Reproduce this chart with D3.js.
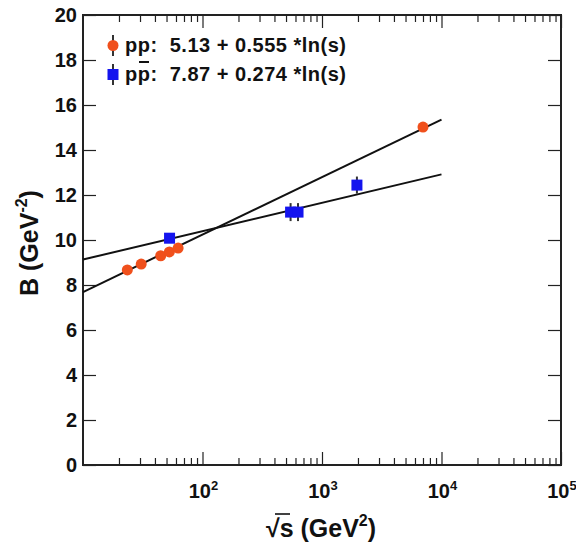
<!DOCTYPE html>
<html>
<head>
<meta charset="utf-8">
<script src="https://cdn.jsdelivr.net/npm/d3@7"></script>
<style>
  html, body { margin: 0; padding: 0; background: #fff; }
  svg { display: block; font-family: "Liberation Sans", Arial, Helvetica, sans-serif; font-weight: bold; }
</style>
</head>
<body>
<div id="chart"></div>
<script>
// --- data ---
const ppSqrtS   = [23.5, 30.7, 44.7, 52.8, 62.5, 7000];
const ppB       = [8.67, 8.93, 9.30, 9.47, 9.64, 15.02];
const ppErr     = [0.12, 0.12, 0.12, 0.12, 0.12, 0.2];
const pbarSqrtS = [53, 546, 630, 1960];
const pbarB     = [10.08, 11.24, 11.24, 12.44];
const pbarErr   = [0.2, 0.4, 0.4, 0.38];
// fit B = a + b*ln(s), drawn over sqrt(s) range
const ppFit     = [5.13, 0.555];
const pbarFit   = [7.87, 0.274];
const fitRange  = [10, 1e4];
const yTicks    = [0, 2, 4, 6, 8, 10, 12, 14, 16, 18, 20];
const xDecades  = [2, 3, 4, 5];

const W = 576, H = 553;
const pL = 83, pR = 561, pT = 15, pB = 465;

const svg = d3.select("#chart").append("svg")
  .attr("width", W).attr("height", H);

const x = d3.scaleLog().domain([10, 1e5]).range([pL, pR]);
const y = d3.scaleLinear().domain([0, 20]).range([pB, pT]);

// --- title, mostly above the top edge as in the reference ---
svg.append("text")
  .attr("x", 283).attr("y", -5)
  .attr("text-anchor", "middle")
  .style("font-size", "22px")
  .style("fill", "#222")
  .text("(pp and p\u0305p)");

// --- ticks ---
const minors = [];
for (let d = 1; d < 5; d++)
  for (let m = 2; m <= 9; m++) minors.push(m * Math.pow(10, d));
const majors = xDecades.map(e => Math.pow(10, e));

const tickStyle = g => g.call(s => s.select(".domain").remove())
  .call(s => s.selectAll("line").attr("stroke", "#222").attr("stroke-width", 1.2));

svg.append("g").attr("transform", `translate(0,${pB})`)
  .call(d3.axisBottom(x).tickValues(minors).tickSize(-7).tickFormat(""))
  .call(tickStyle);
svg.append("g").attr("transform", `translate(0,${pB})`)
  .call(d3.axisBottom(x).tickValues(majors).tickSize(-13).tickFormat(""))
  .call(tickStyle);
svg.append("g").attr("transform", `translate(0,${pT})`)
  .call(d3.axisTop(x).tickValues(minors).tickSize(-7).tickFormat(""))
  .call(tickStyle);
svg.append("g").attr("transform", `translate(0,${pT})`)
  .call(d3.axisTop(x).tickValues(majors).tickSize(-13).tickFormat(""))
  .call(tickStyle);
svg.append("g").attr("transform", `translate(${pL},0)`)
  .call(d3.axisLeft(y).tickValues(yTicks).tickSize(-13).tickFormat(""))
  .call(tickStyle);
svg.append("g").attr("transform", `translate(${pR},0)`)
  .call(d3.axisRight(y).tickValues(yTicks).tickSize(-13).tickFormat(""))
  .call(tickStyle);

// --- frame ---
svg.append("rect")
  .attr("x", pL).attr("y", pT)
  .attr("width", pR - pL).attr("height", pB - pT)
  .attr("fill", "none").attr("stroke", "#222").attr("stroke-width", 2);

// --- tick labels ---
svg.selectAll(".ylab").data(yTicks).join("text")
  .attr("class", "ylab")
  .attr("x", pL - 6)
  .attr("y", d => y(d) + 7)
  .attr("text-anchor", "end")
  .style("font-size", "20px")
  .style("fill", "#111")
  .text(d => d);

const xl = svg.selectAll(".xlab").data(xDecades).join("text")
  .attr("class", "xlab")
  .attr("x", d => x(Math.pow(10, d)) + 1)
  .attr("y", pB + 33)
  .attr("text-anchor", "middle")
  .style("font-size", "20px")
  .style("fill", "#111");
xl.append("tspan").text("10");
xl.append("tspan").attr("dy", -8).style("font-size", "13px").text(d => d);

// --- axis titles ---
const xt = svg.append("text")
  .attr("x", 321).attr("y", 537)
  .attr("text-anchor", "middle")
  .style("font-size", "25px")
  .style("fill", "#111");
xt.append("tspan").text("\u221As (GeV");
xt.append("tspan").attr("dy", -11).style("font-size", "16px").text("2");
xt.append("tspan").attr("dy", 11).text(")");
// radical bar over s
svg.append("line").attr("x1", 275).attr("x2", 290).attr("y1", 514).attr("y2", 514)
  .attr("stroke", "#111").attr("stroke-width", 1.6);

const yt = svg.append("text")
  .attr("transform", `translate(38,${243}) rotate(-90)`)
  .attr("text-anchor", "middle")
  .style("font-size", "25px")
  .style("fill", "#111");
yt.append("tspan").text("B (GeV");
yt.append("tspan").attr("dy", -11).style("font-size", "16px").text("-2");
yt.append("tspan").attr("dy", 11).text(")");

// --- fit lines ---
const fitLine = d3.line().x(d => x(d[0])).y(d => y(d[1]));
[ppFit, pbarFit].forEach(f => {
  const pts = fitRange.map(r => [r, f[0] + f[1] * Math.log(r * r)]);
  svg.append("path").attr("d", fitLine(pts))
    .attr("fill", "none").attr("stroke", "#111").attr("stroke-width", 2);
});

// --- error bars + markers ---
const orange = "#f0501c", blue = "#1414ee";
const ppData = ppSqrtS.map((s, i) => ({ s, b: ppB[i], e: ppErr[i] }));
const pbarData = pbarSqrtS.map((s, i) => ({ s, b: pbarB[i], e: pbarErr[i] }));

[ppData, pbarData].forEach(data => {
  svg.append("g").selectAll("line").data(data).join("line")
    .attr("x1", d => x(d.s)).attr("x2", d => x(d.s))
    .attr("y1", d => y(d.b - d.e)).attr("y2", d => y(d.b + d.e))
    .attr("stroke", "#333").attr("stroke-width", 2);
});

svg.append("g").selectAll("circle").data(ppData).join("circle")
  .attr("cx", d => x(d.s)).attr("cy", d => y(d.b))
  .attr("r", 5.5).attr("fill", orange);

svg.append("g").selectAll("rect").data(pbarData).join("rect")
  .attr("x", d => x(d.s) - 5.5).attr("y", d => y(d.b) - 5.5)
  .attr("width", 11).attr("height", 11).attr("fill", blue);

// --- legend ---
const leg = svg.append("g");
leg.append("line").attr("x1", 113).attr("x2", 113).attr("y1", 35).attr("y2", 56)
  .attr("stroke", "#333").attr("stroke-width", 2);
leg.append("circle").attr("cx", 113).attr("cy", 45.5).attr("r", 5.5).attr("fill", orange);
leg.append("line").attr("x1", 113).attr("x2", 113).attr("y1", 64).attr("y2", 85)
  .attr("stroke", "#333").attr("stroke-width", 2);
leg.append("rect").attr("x", 107.5).attr("y", 69).attr("width", 11).attr("height", 11).attr("fill", blue);

leg.append("text").attr("x", 125).attr("y", 52)
  .style("font-size", "20px").style("letter-spacing", "0.5px")
  .style("fill", "#111").style("white-space", "pre")
  .text("pp:  5.13 + 0.555 *ln(s)");
leg.append("text").attr("x", 125).attr("y", 81)
  .style("font-size", "20px").style("letter-spacing", "0.5px")
  .style("fill", "#111").style("white-space", "pre")
  .text("pp:  7.87 + 0.274 *ln(s)");
// bar over the second p
leg.append("line").attr("x1", 139).attr("x2", 149).attr("y1", 62).attr("y2", 62)
  .attr("stroke", "#111").attr("stroke-width", 2);
</script>
</body>
</html>
